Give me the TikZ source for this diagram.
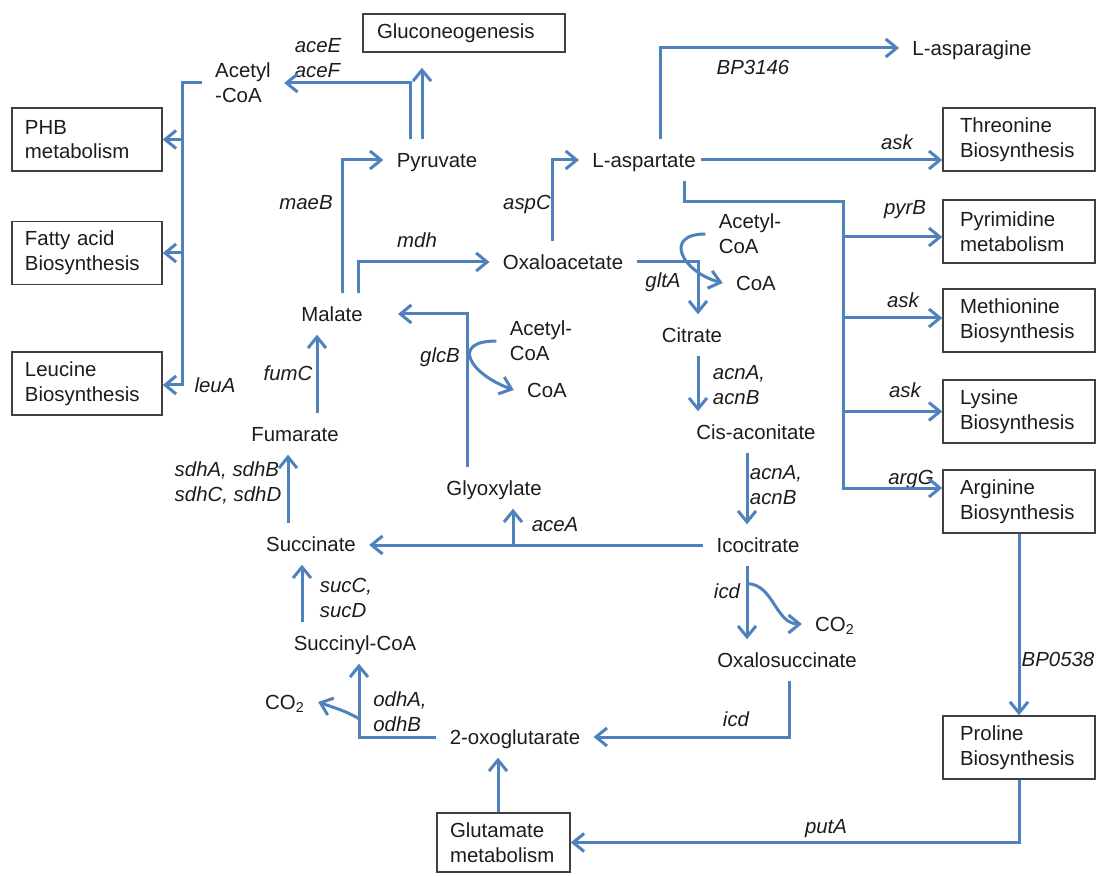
\documentclass[tikz,border=0pt]{standalone}
\usepackage{fontspec}
\setmainfont{Liberation Sans}
\usetikzlibrary{arrows.meta}
\definecolor{flowblue}{RGB}{79,129,189}
\definecolor{boxline}{RGB}{64,64,64}
\definecolor{ink}{RGB}{28,28,28}

\begin{document}
\begin{tikzpicture}[x=0.5pt, y=-0.5pt,
		txt/.style={font=\fontsize{10.2}{12.3}\selectfont, text=ink},
		met/.style={txt, inner xsep=6.5pt, inner ysep=6.5pt, text height=7.3pt, text depth=0pt},
		met2/.style={txt, align=left, inner sep=6.5pt},
		gene/.style={txt, font=\fontsize{10.2}{12.3}\selectfont\itshape, inner sep=0pt, text height=7.3pt, text depth=0pt},
		gene2/.style={txt, font=\fontsize{10.2}{12.3}\selectfont\itshape, inner sep=0pt, align=left},
		box/.style={txt, draw=boxline, line width=0.75pt, align=left, minimum height=31.5pt, inner xsep=6.5pt},
		rbox/.style={box, inner xsep=8.5pt, text width=59pt},
		flow/.style={draw=flowblue, line width=1.5pt, -{Straight Barb[length=5.5pt,width=9pt]}}]
		\useasboundingbox (0,0) rectangle (1096,876);

		\node (glu) [box, text width=87pt, minimum height=19pt, inner xsep=7pt] at (464,33) {Gluconeogenesis};
		\node (phb) [box, text width=62pt] at (87,139.5) {PHB\\metabolism};
		\node (fat) [box, text width=62pt] at (87,253) {Fatty acid\\Biosynthesis};
		\node (leu) [box, text width=62pt] at (87,383.5) {Leucine\\Biosynthesis};
		\node (thr) [rbox] at (1019,139.5) {Threonine\\Biosynthesis};
		\node (pyrm) [rbox] at (1019,231.5) {Pyrimidine\\metabolism};
		\node (meth) [rbox] at (1019,320.5) {Methionine\\Biosynthesis};
		\node (lys) [rbox] at (1019,411.5) {Lysine\\Biosynthesis};
		\node (arg) [rbox] at (1019,501.5) {Arginine\\Biosynthesis};
		\node (pro) [rbox] at (1019,747.5) {Proline\\Biosynthesis};
		\node (glut) [box, text width=53.5pt, minimum height=29.5pt] at (503.5,842.5) {Glutamate\\metabolism};

		\node (acoa) [met2] at (243,83) {Acetyl\\-CoA};
		\node (pyr) [met] at (437,160) {Pyruvate};
		\node (asp) [met] at (644,160) {L-aspartate};
		\node (asn) [met] at (972,48) {L-asparagine};
		\node (oaa) [met] at (563,262) {Oxaloacetate};
		\node (acoab) [met2] at (750,234) {Acetyl-\\CoA};
		\node (coab) [met] at (756,283) {CoA};
		\node (cit) [met] at (692,335) {Citrate};
		\node (cis) [met] at (756,432) {Cis-aconitate};
		\node (icit) [met] at (758,545) {Icocitrate};
		\node (co2a) [met] at (835,624) {CO\textsubscript{2}};
		\node (oxs) [met] at (787,660) {Oxalosuccinate};
		\node (akg) [met] at (515,737) {2-oxoglutarate};
		\node (sucoa) [met] at (355,643) {Succinyl-CoA};
		\node (co2b) [met] at (285,702) {CO\textsubscript{2}};
		\node (suc) [met] at (311,544) {Succinate};
		\node (glx) [met] at (494,488) {Glyoxylate};
		\node (fum) [met] at (295,434) {Fumarate};
		\node (mal) [met] at (332,314) {Malate};
		\node (acoac) [met2] at (541,341) {Acetyl-\\CoA};
		\node (coac) [met] at (547,390) {CoA};

		\node (aceef) [gene2] at (318,58) {aceE\\aceF};
		\node (maeb) [gene] at (306,202) {maeB};
		\node (mdh) [gene] at (417,240) {mdh};
		\node (aspc) [gene] at (527,202) {aspC};
		\node (bp3146) [gene] at (753,67) {BP3146};
		\node (glta) [gene] at (663,280) {gltA};
		\node (acn1) [gene2] at (739,385) {acnA,\\acnB};
		\node (acn2) [gene2] at (776,485) {acnA,\\acnB};
		\node (icd1) [gene] at (727,591) {icd};
		\node (icd2) [gene] at (736,719) {icd};
		\node (puta) [gene] at (826,826) {putA};
		\node (bp0538) [gene] at (1058,659) {BP0538};
		\node (odh) [gene2] at (400,712) {odhA,\\odhB};
		\node (succd) [gene2] at (346,598) {sucC,\\sucD};
		\node (acea) [gene] at (555,524) {aceA};
		\node (sdh) [gene2] at (228,483) {sdhA, sdhB\\sdhC, sdhD};
		\node (fumc) [gene] at (288,373) {fumC};
		\node (leua) [gene] at (215,385) {leuA};
		\node (glcb) [gene] at (440,355) {glcB};
		\node (askthr) [gene] at (897,142) {ask};
		\node (pyrb) [gene] at (905,207) {pyrB};
		\node (askmet) [gene] at (903,300) {ask};
		\node (asklys) [gene] at (905,390) {ask};
		\node (argg) [gene] at (911,477) {argG};

		\coordinate (trunk) at (182,385);
		\coordinate (spine) at (843,202);

		\draw[flow] ([xshift=-13.5pt]pyr.north) |- (acoa.east);
		\draw[flow, shorten >=7.5pt] ([xshift=-7.5pt]pyr.north) -- ([xshift=-7.5pt]pyr.north |- glu.south);
		\draw[flow] (acoa.west) -| (trunk) -- (trunk -| leu.east);
		\draw[flow] (trunk |- phb.east) -- (phb.east);
		\draw[flow] (trunk |- fat.east) -- (fat.east);
		\draw[flow] ([xshift=5pt]mal.north) |- (pyr.west);
		\draw[flow] ([xshift=13pt]mal.north) |- (oaa.west);
		\draw[flow] ([xshift=-5.5pt]oaa.north) |- (asp.west);
		\draw[flow] ([xshift=8pt]asp.north) |- (asn.west);
		\draw[flow] ([xshift=-4pt]asp.east) -- (asp.east -| thr.west);
		\draw[flow] ([xshift=20pt]asp.south) |- (spine) |- ([yshift=6.75pt]arg.west);
		\draw[flow] ([yshift=-2.75pt]pyrm.west -| spine) -- ([yshift=-2.75pt]pyrm.west);
		\draw[flow] ([yshift=1.25pt]meth.west -| spine) -- ([yshift=1.25pt]meth.west);
		\draw[flow] (lys.west -| spine) -- (lys.west);

		\draw[flow] (oaa.east) -| ([xshift=3pt]cit.north);
		\draw[flow] (acoab.west) to[out=180, in=165, looseness=2.1] (coab.west);
		\draw[flow] ([xshift=3pt]cit.south) -- ([xshift=3pt]cit.south |- cis.north);
		\draw[flow] ([xshift=-4.5pt]cis.south) -- ([xshift=-4.5pt]cis.south |- icit.north);
		\draw[flow] (icit.west) -- (icit.west -| suc.east);
		\draw[flow] ([xshift=9.5pt]glx.south |- icit.west) -- ([xshift=9.5pt]glx.south);
		\draw[flow, shorten >=11pt] ([xshift=-13.5pt]glx.north) |- (mal.east);
		\draw[flow] (acoac.west) to[out=180, in=160, looseness=2.3] (coac.west);
		\draw[flow] ([xshift=-5.5pt]icit.south) -- ([xshift=-5.5pt]icit.south |- oxs.north);
		\draw[flow] ([xshift=-5.5pt, yshift=-9pt]icit.south) to[out=0, in=180] (co2a.west);
		\draw[flow] ([xshift=1pt]oxs.south) |- (akg.east);
		\draw[flow] ([xshift=-2.75pt]glut.north) -- ([xshift=-2.75pt]glut.north |- akg.south);
		\draw[flow] (pro.south) |- (glut.east);
		\draw[flow] (arg.south) -- (pro.north);
		\draw[flow] (akg.west) -| ([xshift=2pt]sucoa.south);
		\draw[flow] ([xshift=2pt, yshift=-27.5pt]sucoa.south) to[out=150, in=-20] (co2b.east);
		\draw[flow] ([xshift=-26.5pt]sucoa.north) -- ([xshift=-26.5pt]sucoa.north |- suc.south);
		\draw[flow] ([xshift=-11.5pt]suc.north) -- ([xshift=-11.5pt]suc.north |- fum.south);
		\draw[flow] ([xshift=11pt]fum.north) -- ([xshift=11pt]fum.north |- mal.south);
	\end{tikzpicture}
\end{document}
